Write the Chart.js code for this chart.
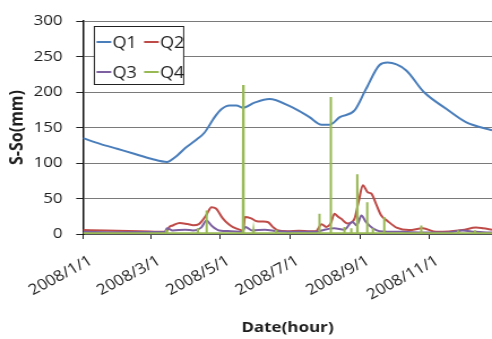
<!DOCTYPE html>
<html>
<head>
<meta charset="utf-8">
<script src="https://cdn.jsdelivr.net/npm/chart.js@4.4.0/dist/chart.umd.min.js"></script>
<style>
  html, body { margin: 0; padding: 0; background: #fff; }
  /* the reference image is stretched sideways, so the canvas is drawn narrower and widened by css */
  #c { display: block; width: 492px; height: 339px; }
</style>
</head>
<body>
<canvas id="c" width="435" height="339" style="width:492px;height:339px"></canvas>
<script>
// x values are days since 2008/1/1
const tickDays = [0, 60, 121, 182, 244, 305];
const tickLabels = ['2008/1/1', '2008/3/1', '2008/5/1', '2008/7/1', '2008/9/1', '2008/11/1'];
const yTicks = [0, 50, 100, 150, 200, 250, 300];

const q1Days = [0, 15, 30, 45, 60, 74, 81, 90, 100, 107, 116, 122, 129, 135, 141, 151, 164, 182, 199, 210, 217, 226, 239, 249, 261, 268, 284, 300, 320, 337, 360];
const q1Vals = [135, 127, 120, 113, 106, 101.5, 108, 121, 133, 143, 165, 176, 181, 181, 178, 185, 190, 180, 165, 154, 154, 164.5, 174, 204, 238, 241.5, 231, 200, 176, 157.6, 146];

const q2Days = [0, 20, 50, 73, 76, 79, 85, 92, 97, 102, 105, 109, 113, 117, 123, 128, 132, 139, 141, 142.5, 148, 153, 158, 163, 167, 171, 180, 190, 200, 205, 210, 214, 218, 221.4, 224, 227, 233, 236, 239, 242.8, 246.3, 250.7, 253.7, 258, 262.5, 268, 276, 287, 299, 311, 322, 334, 346, 352, 360];
const q2Vals = [5.5, 5, 4, 3, 10, 12, 15.6, 14, 12.5, 14, 19, 28, 37.8, 36, 22, 14, 9.6, 5.5, 5, 24, 22, 18, 17.5, 16.5, 10, 5.5, 4, 4.5, 4, 4, 13.8, 10, 15, 28.6, 25, 21.7, 14.7, 16, 21.7, 47, 68.7, 58.5, 57, 42, 26, 18.4, 9, 5.5, 8, 3, 3.5, 5.5, 9, 8, 6];

const q3Days = [0, 30, 72, 74, 79, 90, 97, 104, 108.7, 113, 120, 130, 140, 143, 149, 160, 171, 190, 205, 210, 221, 230, 237, 241, 245, 249, 255, 261, 281, 300, 320, 334, 345, 360];
const q3Vals = [3, 2.5, 3, 8, 5, 6, 5, 9, 19, 12, 5, 4, 3, 10, 5, 6, 4, 3, 3, 5, 8, 6, 17, 12, 26, 17, 8, 4, 3, 2, 2, 5, 3, 2];

// Q4 is a flat base with short spikes
const q4Base = 1;
const q4SpikeDays = [73.5, 101, 108.7, 141, 150, 170, 208, 218, 230, 236, 241.4, 250, 255, 265, 297.6, 330, 345];
const q4SpikeVals = [6, 8, 33, 210, 5, 6, 28.6, 193, 10, 8, 84, 44.7, 8, 24, 12, 5, 5];

function pairs(days, vals) {
  return days.map((d, i) => ({ x: d, y: vals[i] }));
}

const q4Points = [{ x: 0, y: q4Base }];
q4SpikeDays.forEach((d, i) => {
  q4Points.push({ x: d - 0.3, y: q4Base }, { x: d, y: q4SpikeVals[i] }, { x: d + 0.3, y: q4Base });
});
q4Points.push({ x: 360, y: q4Base });

const seriesNames = ['Q1', 'Q2', 'Q3', 'Q4'];
const seriesColors = ['#4a7ebb', '#be4b48', '#7d60a0', '#98b954'];

const FONT = '"Open Sans", "Noto Sans", sans-serif';
const TEXT = '#1e1e1e';

// legend box drawn inside the plot, two columns
const insideLegend = {
  id: 'insideLegend',
  afterDraw(chart) {
    const ctx = chart.ctx;
    const a = chart.chartArea;
    const x0 = a.left + 10, y0 = a.top + 5.5, w = 79, h = 58;
    ctx.save();
    ctx.fillStyle = '#fff';
    ctx.fillRect(x0, y0, w, h);
    ctx.strokeStyle = '#222';
    ctx.lineWidth = 1;
    ctx.strokeRect(x0, y0, w, h);
    ctx.font = '16px ' + FONT;
    ctx.textBaseline = 'middle';
    ctx.fillStyle = TEXT;
    seriesNames.forEach((name, i) => {
      const col = i % 2, row = Math.floor(i / 2);
      const lx = x0 + 2 + col * 42;
      const ly = y0 + 15.5 + row * 30;
      ctx.strokeStyle = seriesColors[i];
      ctx.lineWidth = 2;
      ctx.beginPath();
      ctx.moveTo(lx, ly);
      ctx.lineTo(lx + 13, ly);
      ctx.stroke();
      ctx.fillText(name, lx + 14, ly + 1);
    });
    ctx.restore();
  }
};

const datasets = [
  { data: pairs(q1Days, q1Vals), order: 4 },
  { data: pairs(q2Days, q2Vals), order: 3 },
  { data: pairs(q3Days, q3Vals), order: 2 },
  { data: q4Points, order: 1 }
].map((ds, i) => Object.assign(ds, {
  label: seriesNames[i],
  borderColor: seriesColors[i],
  backgroundColor: seriesColors[i],
  borderWidth: 2,
  pointRadius: 0,
  fill: false,
  cubicInterpolationMode: i < 3 ? 'monotone' : 'default',
  tension: 0
}));

new Chart(document.getElementById('c'), {
  type: 'line',
  data: { datasets },
  options: {
    responsive: false,
    animation: false,
    devicePixelRatio: 1,
    layout: { padding: { top: 17, right: 0, left: 0, bottom: 0 } },
    plugins: {
      legend: { display: false },
      tooltip: { enabled: false }
    },
    scales: {
      x: {
        type: 'linear',
        min: 0,
        max: 360,
        afterBuildTicks(scale) {
          scale.ticks = tickDays.map(v => ({ value: v }));
        },
        afterFit(scale) { scale.height = 105; },
        ticks: {
          autoSkip: false,
          maxRotation: 31,
          minRotation: 31,
          padding: 13,
          labelOffset: 7,
          color: TEXT,
          font: { family: FONT, size: 15 },
          callback(value) {
            const k = tickDays.indexOf(value);
            return k >= 0 ? tickLabels[k] : '';
          }
        },
        grid: { drawOnChartArea: false, drawTicks: true, tickLength: 5, color: '#222' },
        border: { color: '#555', width: 1 },
        title: {
          display: true,
          text: 'Date(hour)',
          color: TEXT,
          font: { family: FONT, size: 15, weight: 'bold' },
          padding: { top: 0, bottom: 2 }
        }
      },
      y: {
        min: 0,
        max: 300,
        afterBuildTicks(scale) {
          scale.ticks = yTicks.map(v => ({ value: v }));
        },
        afterFit(scale) { scale.width = 73.4; },
        ticks: {
          padding: 12,
          color: TEXT,
          font: { family: FONT, size: 15 }
        },
        grid: { color: '#7a7a7a', lineWidth: 1, tickLength: 6, tickColor: '#222' },
        border: { color: '#111', width: 1.5 },
        title: {
          display: true,
          text: 'S-So(mm)',
          color: TEXT,
          font: { family: FONT, size: 16, weight: 'bold' },
          padding: { top: 6, bottom: 4 }
        }
      }
    }
  },
  plugins: [insideLegend]
});
</script>
</body>
</html>
